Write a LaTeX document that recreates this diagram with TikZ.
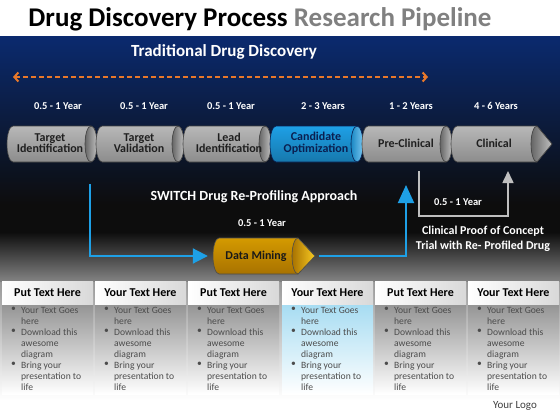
\documentclass[tikz,border=0pt]{standalone}
\usepackage{fontspec}
\setmainfont{Carlito}
\usetikzlibrary{arrows.meta, positioning, calc}

\definecolor{navy}{HTML}{0B2A6E}
\definecolor{darknavy}{HTML}{0A1F50}
\definecolor{linkblue}{HTML}{1EA0E6}
\definecolor{dashorange}{HTML}{E8782A}
\definecolor{lightcyan}{HTML}{A6DCF2}
\definecolor{goldtop}{HTML}{D49A00}
\definecolor{goldmid}{HTML}{F8CA22}
\definecolor{goldbot}{HTML}{A87200}

\tikzstyle{lbl} = [text=white, font=\bfseries\fontsize{10.5}{12}\selectfont]
\tikzstyle{segtext} = [align=center, text=black!88, font=\bfseries\fontsize{12}{11.5}\selectfont]
\tikzstyle{graybody} = [draw=black!75, line width=0.6pt, top color=black!28, middle color=black!5, bottom color=black!45]
\tikzstyle{grayface} = [draw=black!75, line width=0.6pt, left color=black!60, right color=black!25]
\tikzstyle{bluebody} = [draw=darknavy, line width=0.6pt, top color=linkblue, middle color=linkblue!45!white, bottom color=linkblue!75!black]
\tikzstyle{blueface} = [draw=darknavy, line width=0.6pt, left color=linkblue!85!black, right color=linkblue!60!white]
\tikzstyle{goldbody} = [draw=black!70, line width=0.6pt, top color=goldtop, middle color=goldmid, bottom color=goldbot]
\tikzstyle{goldface} = [draw=black!70, line width=0.6pt, left color=goldbot, right color=goldmid]
\tikzstyle{bluelink} = [linkblue, line width=2pt]
\tikzstyle{graylink} = [black!25, line width=1.6pt]
\tikzstyle{hdr} = [minimum width=91pt, minimum height=23pt, inner sep=0pt, left color=white, right color=black!15, font=\bfseries\fontsize{12}{13}\selectfont]
\tikzstyle{bul} = [inner sep=0pt, align=left, text=black!70, font=\fontsize{9.6}{11}\selectfont]

% left end x, face x, centre y, body style, face style
\newcommand{\pipeseg}[5]{%
  \path[#4] ({#1+6},{#3+18}) -- (#2,{#3+18})
    arc[start angle=90, end angle=-90, x radius=6, y radius=18]
    -- ({#1+6},{#3-18})
    arc[start angle=270, end angle=90, x radius=6, y radius=18] -- cycle;
  \path[#5] (#2,#3) ellipse[x radius=6, y radius=18];}
% left end x, face x, tip x, centre y, body style, face style
\newcommand{\pipetip}[6]{%
  \path[#5] ({#1+6},{#4+18}) -- (#2,{#4+18}) -- (#3,#4) -- (#2,{#4-18})
    -- ({#1+6},{#4-18})
    arc[start angle=270, end angle=90, x radius=6, y radius=18] -- cycle;
  \path[#6] (#2,{#4+18})
    arc[start angle=90, end angle=270, x radius=6, y radius=18]
    -- (#3,#4) -- cycle;}

\begin{document}
\begin{tikzpicture}[x=1pt, y=1pt]
  \useasboundingbox (0,0) rectangle (560,-420);
  \fill[white] (0,0) rectangle (560,-420);
  \shade[top color=navy, bottom color=black!95] (0,-37) rectangle (560,-205);
  \fill[black!95] (0,-205) rectangle (560,-232);
  \shade[top color=black!95, bottom color=black!48] (0,-232) rectangle (560,-282);
  \shade[top color=black!40, bottom color=white] (0,-282) rectangle (560,-400);

  \node[font=\bfseries\fontsize{27}{29}\selectfont] (title) at (260,-19)
    {Drug Discovery Process \textcolor{black!50}{Research Pipeline}};
  \node[lbl, font=\bfseries\fontsize{17}{19}\selectfont] (trad) at (224,-52) {Traditional Drug Discovery};
  \coordinate (tdl) at (13,-77);
  \coordinate (tdr) at (428,-77);
  \draw[dashorange, line width=2pt, dash pattern=on 5pt off 3pt,
    {Straight Barb[length=4pt,width=9pt]}-{Straight Barb[length=4pt,width=9pt]}] (tdl) -- (tdr);

  \foreach \x/\t [count=\i] in {58/0.5 - 1 Year, 144/0.5 - 1 Year, 231/0.5 - 1 Year,
      323/2 - 3 Years, 411/1 - 2 Years, 496/4 - 6 Years}
    \node[lbl] (yr\i) at (\x,-106) {\t};

  \pipeseg{7}{91}{-144}{graybody}{grayface}
  \pipeseg{96}{178}{-144}{graybody}{grayface}
  \pipeseg{183}{265}{-144}{graybody}{grayface}
  \pipeseg{270}{357}{-144}{bluebody}{blueface}
  \pipeseg{362}{446}{-144}{graybody}{grayface}
  \pipetip{451}{537}{552}{-144}{graybody}{grayface}

  \node[segtext] (ti) at (50,-143) {Target\\Identification};
  \node[segtext] (tv) at (139,-143) {Target\\Validation};
  \node[segtext] (li) at (229,-143) {Lead\\Identification};
  \node[segtext, text=darknavy] (co) at (316,-143) {Candidate\\Optimization};
  \node[segtext] (pc) at (406,-143) {Pre-Clinical};
  \node[segtext] (cl) at (494,-143) {Clinical};

  \pipetip{213}{298}{315}{-256}{goldbody}{goldface}
  \node[segtext, text=black!90, minimum width=86pt, minimum height=36pt] (dm) at (256,-256) {Data Mining};

  \node[lbl, font=\bfseries\fontsize{14}{16}\selectfont] (switch) at (254,-197) {SWITCH Drug Re-Profiling Approach};
  \node[lbl] (dmyr) at (262,-223) {0.5 - 1 Year};
  \node[lbl] (cpyr) at (458,-202) {0.5 - 1 Year};
  \node[lbl, align=center, font=\bfseries\fontsize{12}{15}\selectfont] (cpoc) at (483,-239)
    {Clinical Proof of Concept\\Trial with Re- Profiled Drug};

  \coordinate (sw) at (90,-184);
  \coordinate (dmtip) at (319,-256);
  \coordinate (pcin) at (406,-185);
  \coordinate (pcout) at (419,-171);
  \coordinate (clin) at (508,-171);
  \draw[bluelink, shorten >=5pt, -{Triangle[length=15pt,width=15pt]}] (sw) |- (dm.west);
  \draw[bluelink, -{Triangle[length=18pt,width=16pt]}] (dmtip) -| (pcin);
  \draw[graylink, -{Triangle[length=12pt,width=11pt]}] (pcout) -- ++(0,-45) -| (clin);

  \foreach \cx/\hd/\tc [count=\i] in {2/Put/black!42, 95/Your/black!42, 188/Put/black!42,
      282/Your/lightcyan, 375/Put/black!42, 468/Your/black!42} {
    \shade[top color=\tc, bottom color=white] (\cx,-304) rectangle ++(91,-90);
    \node[hdr] (h\i) at ({\cx+45.5},-292.5) {\hd{} Text Here};
    \foreach \by/\bt [count=\j] in {307/{Your Text Goes\\here}, 329/{Download this\\awesome\\diagram},
        362/{Bring your\\presentation to\\life}} {
      \node[bul, anchor=north east] (d\i-\j) at ({\cx+14},-\by) {\textbullet};
      \node[bul, anchor=north west] (b\i-\j) at ({\cx+19},-\by) {\bt};
    }
  }
  \node[text=black!75, font=\fontsize{11}{13}\selectfont] (logo) at (515,-406) {Your Logo};
\end{tikzpicture}
\end{document}
